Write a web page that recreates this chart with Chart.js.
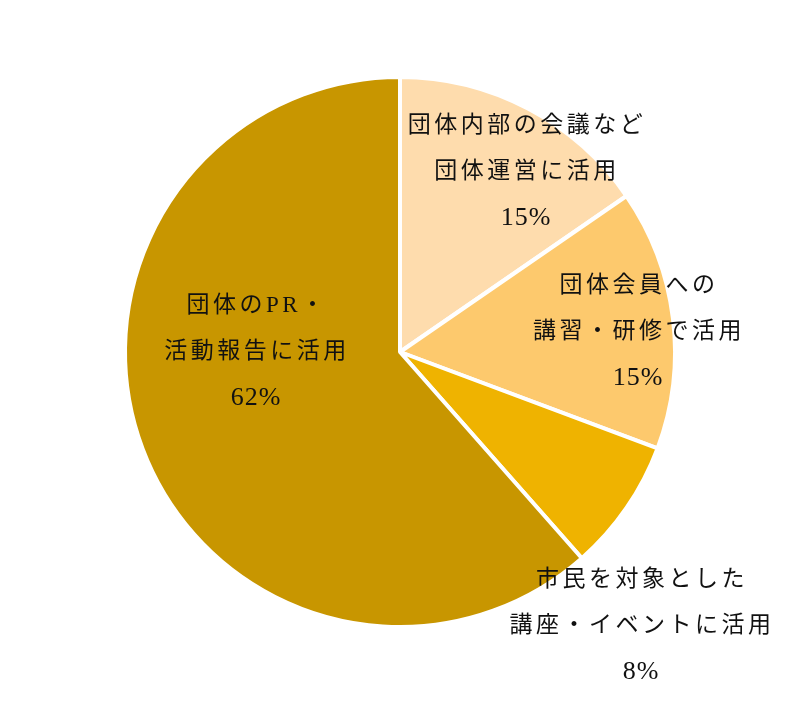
<!DOCTYPE html>
<html>
<head>
<meta charset="utf-8">
<style>
    html, body { margin: 0; padding: 0; background: #fff; }
    #wrap { width: 800px; height: 707px; }
</style>
</head>
<body>
<div id="wrap"><canvas id="myChart"></canvas></div>

<script src="https://cdn.jsdelivr.net/npm/chart.js"></script>
<script>
    // data (shares; labels show them rounded)
    const categories = [
        ['団体内部の会議など', '団体運営に活用'],
        ['団体会員への', '講習・研修で活用'],
        ['市民を対象とした', '講座・イベントに活用'],
        ['団体のPR・', '活動報告に活用']
    ];
    const values = [15.4, 15.3, 7.8, 61.5];
    const colors = ['#fedcad', '#fdc96d', '#efb300', '#c89600'];

    // label centre offsets from the pie centre (px)
    const labelOffsets = [[125, -180], [237, -20], [240, 274], [-145, 0]];

    const sliceLabels = {
        id: 'sliceLabels',
        afterDatasetsDraw(chart) {
            const ctx = chart.ctx;
            const arcs = chart.getDatasetMeta(0).data;
            ctx.save();
            ctx.fillStyle = '#111111';
            ctx.textAlign = 'center';
            ctx.textBaseline = 'middle';
            arcs.forEach(function (arc, i) {
                const cx = arc.x + labelOffsets[i][0];
                const cy = arc.y + labelOffsets[i][1];
                const lh = 46;
                categories[i].forEach(function (t, j) {
                    ctx.font = '23px "Liberation Serif", "Noto Sans CJK JP", serif';
                    ctx.letterSpacing = '3.5px';
                    ctx.fillText(t, cx + 2, cy + (j - 1) * lh);
                });
                ctx.font = '26px "Liberation Serif", serif';
                ctx.letterSpacing = '1px';
                ctx.fillText(Math.round(values[i]) + '%', cx + 1, cy + lh);
            });
            ctx.restore();
        }
    };

    const ctx = document.getElementById('myChart');
    const chart = new Chart(ctx, {
        type: 'pie',
        data: {
            labels: categories.map(function (c) { return c.join(''); }),
            datasets: [{
                data: values,
                backgroundColor: colors,
                borderColor: '#ffffff',
                borderWidth: 4
            }]
        },
        options: {
            responsive: true,
            maintainAspectRatio: false,
            animation: false,
            layout: { padding: { top: 75, bottom: 78 } },
            plugins: {
                legend: { display: false },
                tooltip: { enabled: false }
            }
        },
        plugins: [sliceLabels]
    });
</script>
</body>
</html>
